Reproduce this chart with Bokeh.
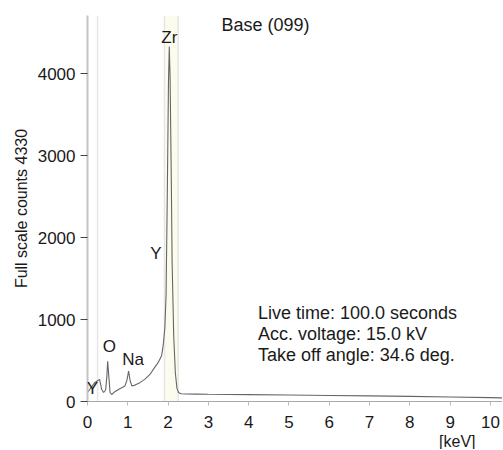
from bokeh.plotting import figure
from bokeh.models import Label, Span, BoxAnnotation, FixedTicker, Range1d, ColumnDataSource, Title
from bokeh.embed import file_html
from bokeh.resources import INLINE

# ---- data ----
energy = [0.00, 0.06, 0.12, 0.18, 0.24, 0.30, 0.35, 0.40, 0.45, 0.48,
          0.50, 0.53, 0.56, 0.60, 0.68, 0.78, 0.86, 0.93, 0.98, 1.02,
          1.06, 1.10, 1.18, 1.30, 1.42, 1.55, 1.66, 1.76, 1.84, 1.88,
          1.92, 1.95, 1.98, 2.01, 2.03, 2.05, 2.08, 2.10, 2.14, 2.18,
          2.22, 2.26, 2.32, 2.45, 2.7, 3.0, 3.5, 4.0, 5.0, 6.0,
          7.0, 8.0, 9.0, 10.0, 10.3]
counts = [110, 150, 190, 230, 250, 270, 150, 110, 140, 300,
          490, 300, 110, 85, 120, 150, 170, 190, 260, 370,
          250, 190, 200, 230, 270, 330, 410, 480, 560, 690,
          900, 1300, 2500, 3900, 4330, 3950, 2700, 1700, 800, 350,
          160, 110, 95, 92, 90, 88, 86, 84, 80, 74,
          68, 62, 55, 47, 44]

x_ticks = [0, 1, 2, 3, 4, 5, 6, 7, 8, 9, 10]
y_ticks = [0, 1000, 2000, 3000, 4000]

peak_names = ["Zr", "Y", "O", "Na", "Y"]
peak_label_x = [2.03, 1.70, 0.54, 1.13, 0.12]
peak_label_y = [4440, 1806, 673, 515, 164]

roi_bounds = [1.91, 2.25]
marker_energy = 0.25

title_text = "Base (099)"
info_lines = ["Live time: 100.0 seconds",
              "Acc. voltage: 15.0 kV",
              "Take off angle: 34.6 deg."]
info_y = [1083, 824, 563]

FONT = "Liberation Sans"
TXT = "#1a1a1a"

p = figure(width=502, height=449, output_backend="svg", toolbar_location=None,
           x_range=Range1d(0, 10.3), y_range=Range1d(0, 4708),
           min_border_left=87, min_border_right=0, min_border_top=15,
           min_border_bottom=47)
p.grid.visible = False
p.outline_line_color = None
p.background_fill_color = "white"
p.border_fill_color = "white"

# ROI / marker decorations
p.add_layout(BoxAnnotation(left=roi_bounds[0], right=roi_bounds[1],
                           fill_color="#fcfcee", fill_alpha=1.0, line_color=None,
                           level="underlay"))
for xv in roi_bounds + [marker_energy]:
    p.add_layout(Span(location=xv, dimension="height", line_color="#e6e6e6",
                      line_width=1.5, level="underlay"))

src = ColumnDataSource(dict(energy=energy, counts=counts))
p.line(x="energy", y="counts", source=src, line_color="#666666", line_width=1.1)

# axes
p.yaxis.ticker = FixedTicker(ticks=y_ticks)
p.xaxis.ticker = FixedTicker(ticks=x_ticks)
p.yaxis.minor_tick_line_color = None
p.xaxis.minor_tick_line_color = None
p.yaxis.axis_line_color = "#c4c4c4"
p.yaxis.axis_line_width = 2
p.yaxis.major_tick_line_color = "#444444"
p.yaxis.major_tick_out = 7
p.yaxis.major_tick_in = 0
p.yaxis.major_label_standoff = 5
p.xaxis.axis_line_color = "#a8a8a8"
p.xaxis.major_tick_line_color = "#bbbbbb"
p.xaxis.major_tick_out = 4
p.xaxis.major_tick_in = 0
p.xaxis.major_label_standoff = 10
for ax in (p.xaxis, p.yaxis):
    ax.major_label_text_font = FONT
    ax.major_label_text_font_size = "17px"
    ax.major_label_text_color = TXT

# y axis title (shifted up like the reference)
p.add_layout(Title(text="Full scale counts 4330", align="center", offset=38,
                   text_font=FONT, text_font_size="16px", text_font_style="normal",
                   text_color=TXT, standoff=9), "left")
# x unit label
p.add_layout(Title(text="[keV]", align="right", offset=27,
                   text_font=FONT, text_font_size="16px", text_font_style="normal",
                   text_color=TXT, standoff=0), "below")

# peak labels
for name, lx, ly in zip(peak_names, peak_label_x, peak_label_y):
    p.add_layout(Label(x=lx, y=ly, text=name, text_font=FONT, text_font_size="17px",
                       text_color=TXT, text_align="center", text_baseline="middle"))

p.add_layout(Label(x=4.42, y=4593, text=title_text, text_font=FONT,
                   text_font_size="18px", text_color=TXT,
                   text_align="center", text_baseline="middle"))
for line, ly in zip(info_lines, info_y):
    p.add_layout(Label(x=4.23, y=ly, text=line, text_font=FONT, text_font_size="18px",
                       text_color=TXT, text_align="left", text_baseline="middle"))

open("out.html", "w").write(file_html(p, INLINE))
